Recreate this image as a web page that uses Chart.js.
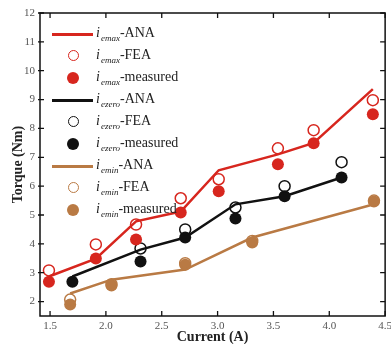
<!DOCTYPE html>
<html>
<head>
<meta charset="utf-8">
<script src="https://cdn.jsdelivr.net/npm/chart.js@4"></script>
<style>
    body { margin: 0; overflow: hidden; background: #fff; }
    #wrap { position: relative; width: 396px; height: 346px; }
    #legend { position: absolute; left: 0; top: 0; font-family: 'Liberation Serif', serif; color: #222; }
    .row { position: absolute; left: 52px; height: 22px; width: 200px; }
    .sample { position: absolute; left: 0; width: 41px; top: 9px; }
    .txt { position: absolute; left: 44px; top: 0; font-size: 14px; line-height: 18px; white-space: nowrap; }
    .txt i { font-style: italic; }
    .txt sub { font-style: italic; font-size: 9px; position: relative; top: 4px; vertical-align: baseline; margin-left: 1px; }
</style>
</head>
<body>
<div id="wrap">
    <canvas id="torqueChart" width="396" height="346"></canvas>
    <div id="legend"></div>
</div>
<script>
const _RED = '#d7261e';
const _BLACK = '#111111';
const _BROWN = '#b97a44';

// ticks
const xTicks = [1.5, 2, 2.5, 3, 3.5, 4, 4.5];
const yTicks = [2, 3, 4, 5, 6, 7, 8, 9, 10, 11, 12];

// i_emax
const emaxX = [1.49, 1.91, 2.27, 2.67, 3.01, 3.54, 3.86, 4.39];
const emaxAna = [2.87, 3.49, 4.78, 5.12, 6.55, 7.10, 7.50, 9.36];
const emaxFea = [3.08, 3.98, 4.67, 5.58, 6.24, 7.31, 7.94, 8.98];
const emaxMeas = [2.69, 3.49, 4.15, 5.09, 5.82, 6.76, 7.49, 8.49];

// i_ezero
const ezeroX = [1.70, 2.31, 2.71, 3.16, 3.60, 4.11];
const ezeroAna = [2.87, 3.80, 4.22, 5.37, 5.65, 6.30];
const ezeroFea = [null, 3.84, 4.50, 5.26, 6.00, 6.83];
const ezeroMeas = [2.69, 3.39, 4.22, 4.88, 5.65, 6.30];

// i_emin
const eminX = [1.68, 2.05, 2.71, 3.31, 4.40];
const eminAna = [2.28, 2.76, 3.11, 4.22, 5.37];
const eminFea = [2.07, 2.60, 3.33, 4.10, 5.50];
const eminMeas = [1.90, 2.56, 3.28, 4.05, 5.47];

function toPoints(xs, ys) {
    let pts = [];
    for (let i = 0; i < xs.length; i++) {
        if (ys[i] !== null) pts.push({ x: xs[i], y: ys[i] });
    }
    return pts;
}

function anaSet(sub, xs, ys, color) {
    return {
        type: 'line', label: sub + '-ANA', sub: sub, tail: '-ANA', kind: 'line',
        data: toPoints(xs, ys), borderColor: color, borderWidth: 2.5,
        pointRadius: 0, tension: 0, fill: false, order: 2
    };
}

function feaSet(sub, xs, ys, color) {
    return {
        type: 'scatter', label: sub + '-FEA', sub: sub, tail: '-FEA', kind: 'open',
        data: toPoints(xs, ys), borderColor: color, backgroundColor: 'rgba(255,255,255,0)',
        pointRadius: 5.5, pointBorderWidth: 1.5, order: 1
    };
}

function measSet(sub, xs, ys, color) {
    return {
        type: 'scatter', label: sub + '-measured', sub: sub, tail: '-measured', kind: 'dot',
        data: toPoints(xs, ys), borderColor: color, backgroundColor: color,
        pointRadius: 6, pointBorderWidth: 0, order: 1
    };
}

const datasets = [
    anaSet('emax', emaxX, emaxAna, _RED),
    feaSet('emax', emaxX, emaxFea, _RED),
    measSet('emax', emaxX, emaxMeas, _RED),
    anaSet('ezero', ezeroX, ezeroAna, _BLACK),
    feaSet('ezero', ezeroX, ezeroFea, _BLACK),
    measSet('ezero', ezeroX, ezeroMeas, _BLACK),
    anaSet('emin', eminX, eminAna, _BROWN),
    feaSet('emin', eminX, eminFea, _BROWN),
    measSet('emin', eminX, eminMeas, _BROWN)
];

// box + inward ticks on all four sides
const frameTicks = {
    id: 'frameTicks',
    afterDraw(chart) {
        const ctx = chart.ctx;
        const a = chart.chartArea;
        const xs = chart.scales.x;
        const ys = chart.scales.y;
        ctx.save();
        ctx.strokeStyle = '#111';
        ctx.lineWidth = 1.5;
        ctx.strokeRect(a.left, a.top, a.right - a.left, a.bottom - a.top);
        ctx.lineWidth = 1.3;
        ctx.beginPath();
        for (const t of xTicks) {
            const px = xs.getPixelForValue(t);
            ctx.moveTo(px, a.bottom); ctx.lineTo(px, a.bottom - 5);
            ctx.moveTo(px, a.top); ctx.lineTo(px, a.top + 5);
        }
        for (const t of yTicks) {
            const py = ys.getPixelForValue(t);
            ctx.moveTo(a.left - 2, py); ctx.lineTo(a.left + 4, py);
            ctx.moveTo(a.right, py); ctx.lineTo(a.right - 5, py);
        }
        ctx.stroke();
        ctx.restore();
    }
};

const ctx = document.getElementById('torqueChart').getContext('2d');
const torqueChart = new Chart(ctx, {
    data: { datasets: datasets },
    options: {
        responsive: false,
        animation: false,
        layout: { padding: { top: 13, right: 4, left: 0, bottom: 0 } },
        plugins: {
            legend: { display: false },
            tooltip: { enabled: false }
        },
        scales: {
            x: {
                type: 'linear', min: 1.41, max: 4.5,
                grid: { display: false, drawTicks: false },
                border: { display: false },
                afterBuildTicks: (s) => { s.ticks = xTicks.map(v => ({ value: v })); },
                afterFit: (s) => { s.height = 30; },
                ticks: {
                    padding: 4, color: '#555',
                    font: { family: 'Liberation Serif', size: 11 }
                },
                title: {
                    display: true, text: 'Current (A)', color: '#222',
                    padding: { top: 0, bottom: 0 },
                    font: { family: 'Liberation Serif', size: 14, weight: 'bold' }
                }
            },
            y: {
                type: 'linear', min: 1.5, max: 12,
                grid: { display: false, drawTicks: false },
                border: { display: false },
                afterBuildTicks: (s) => { s.ticks = yTicks.map(v => ({ value: v })); },
                afterFit: (s) => { s.width = 40; },
                ticks: {
                    padding: 5, color: '#555',
                    font: { family: 'Liberation Serif', size: 11 }
                },
                title: {
                    display: true, text: 'Torque (Nm)', color: '#222',
                    padding: { top: 10, bottom: 0 },
                    font: { family: 'Liberation Serif', size: 14, weight: 'bold' }
                }
            }
        }
    },
    plugins: [frameTicks]
});

// legend with subscripts
const legend = document.getElementById('legend');
datasets.forEach(function (ds, i) {
    const row = document.createElement('div');
    row.className = 'row';
    row.style.top = (24 + i * 22) + 'px';
    let sample = '';
    if (ds.kind === 'line') {
        sample = `<div class="sample" style="height:0;border-top:3px solid ${ds.borderColor};"></div>`;
    } else if (ds.kind === 'open') {
        sample = `<div class="sample" style="left:16px;top:4px;width:9px;height:9px;border-radius:50%;border:1.5px solid ${ds.borderColor};"></div>`;
    } else {
        sample = `<div class="sample" style="left:15px;top:4px;width:12px;height:12px;border-radius:50%;background:${ds.backgroundColor};"></div>`;
    }
    row.innerHTML = sample + `<div class="txt"><i>i</i><sub>${ds.sub}</sub>${ds.tail}</div>`;
    legend.appendChild(row);
});
</script>
</body>
</html>
